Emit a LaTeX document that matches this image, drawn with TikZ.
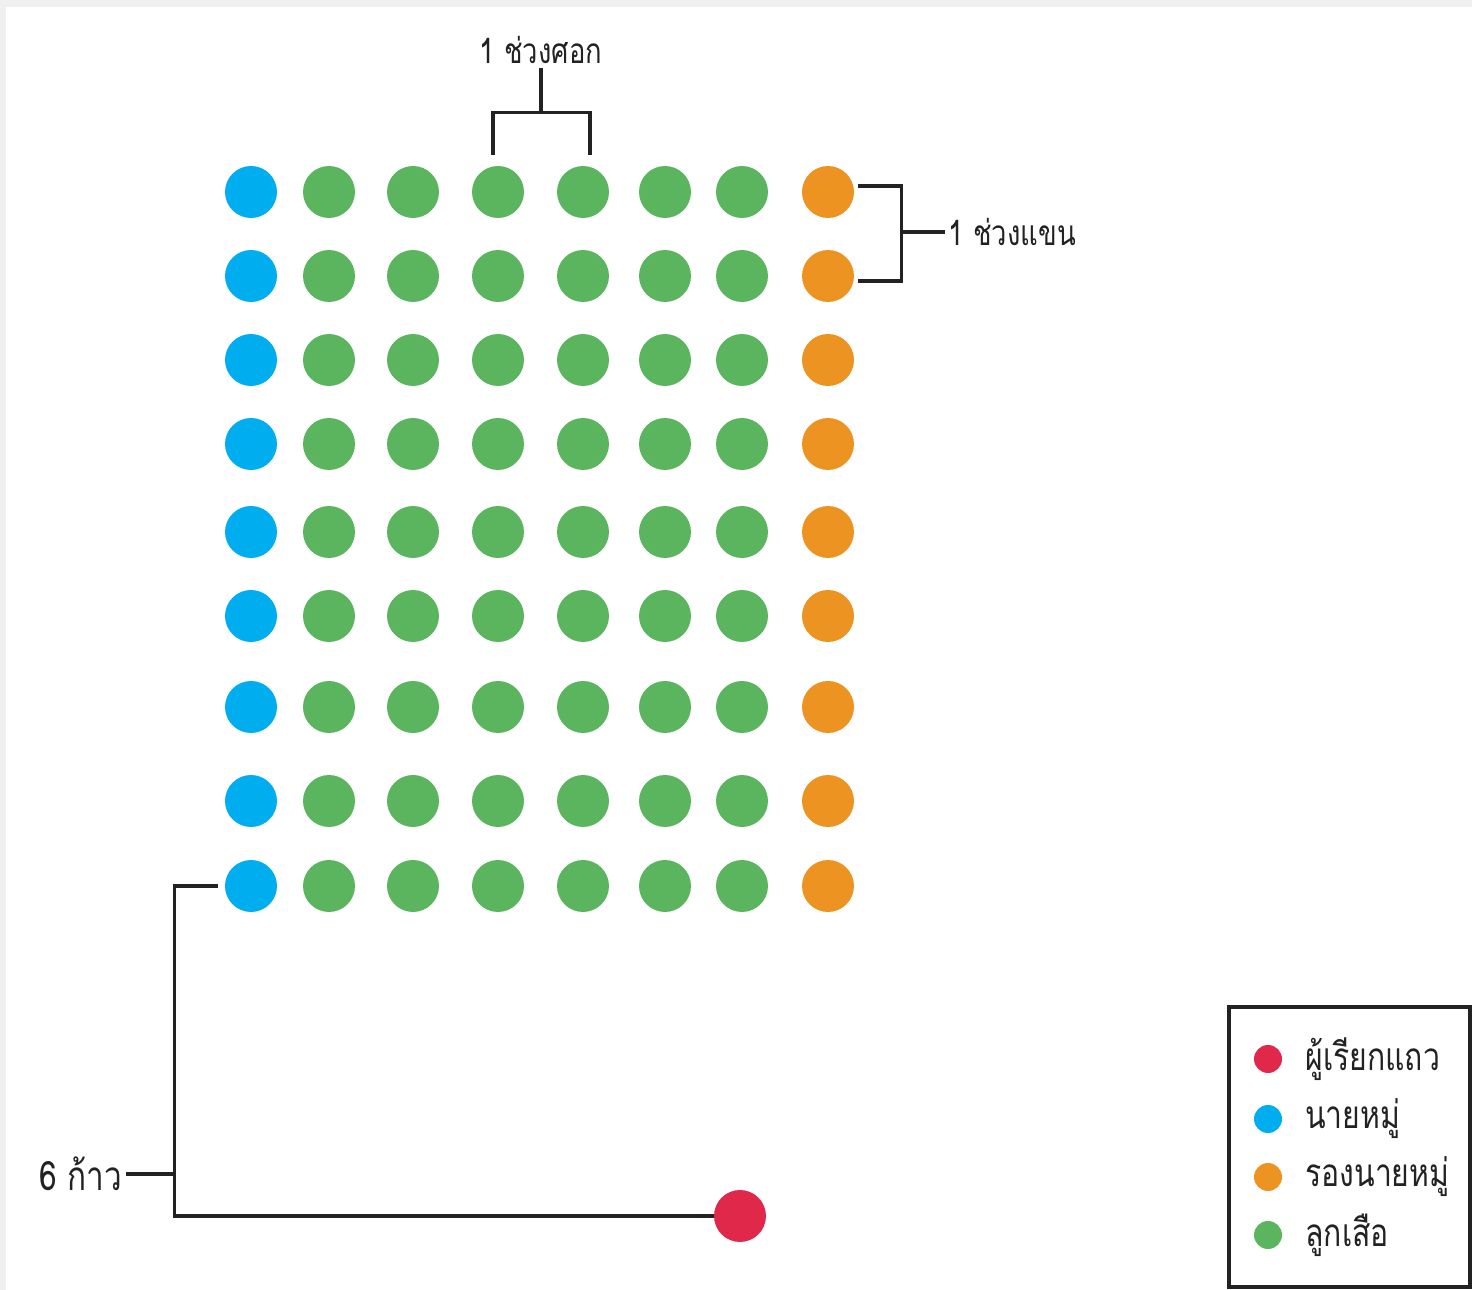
\documentclass[tikz,border=0pt]{standalone}
\usepackage{fontspec}
\usepackage{tikz}
\usetikzlibrary{calc}
\newfontfamily\thaifont[Script=Thai, FakeStretch=0.78]{Loma}
\definecolor{leaderblue}{HTML}{00AEEF}
\definecolor{scoutgreen}{HTML}{5AB55E}
\definecolor{secondorange}{HTML}{EC9322}
\definecolor{callerred}{HTML}{E0284A}
\definecolor{linegray}{HTML}{222222}

\begin{document}
\begin{tikzpicture}[x=0.02cm, y=-0.02cm,
    dot/.style={circle, fill=#1, minimum size=1.04cm, inner sep=0pt},
    keydot/.style={circle, fill=#1, minimum size=0.56cm, inner sep=0pt},
    bracket/.style={linegray, line width=2.1pt},
    label/.style={font=\thaifont\fontsize{20}{24}\selectfont, text=linegray, inner sep=2pt},
    keytext/.style={font=\thaifont\fontsize{22}{26}\selectfont, text=linegray, anchor=west, inner sep=0pt}]
            \useasboundingbox (0,0) rectangle (1472,1290);
            \fill[gray!12] (0,0) rectangle (1472,7);
            \fill[gray!12] (0,0) rectangle (6,1290);

            % rows of the patrol
            \foreach \y [count=\r] in {192,276,360,444,532,616,707,801,886}{
                \foreach \x/\kind [count=\c] in {251/leaderblue,329/scoutgreen,413/scoutgreen,498/scoutgreen,583/scoutgreen,665/scoutgreen,742/scoutgreen,828/secondorange}{
                    \node[dot=\kind] (d\r-\c) at (\x,\y) {};
                }
            }
            \node[dot=callerred] (caller) at (740,1216) {};

            % elbow spacing
            \node[label] (elbow) at (541,50) {1 ช่วงศอก};
            \draw[bracket] ([shift={(-5,-11)}]d1-4.north) -- ++(0,-42) coordinate (elbowjoin) -| ([shift={(7,-11)}]d1-5.north);
            \draw[bracket] (elbow.south) -- (elbow.south |- elbowjoin);

            % arm spacing
            \node[label, anchor=west] (arm) at (945,232) {1 ช่วงแขน};
            \draw[bracket] ([shift={(4,-6)}]d1-8.east) -- ++(43,0) coordinate (armjoin) |- ([shift={(4,5)}]d2-8.east);
            \draw[bracket] (arm.west) -- (arm.west -| armjoin);

            % six paces to the caller
            \node[label, font=\thaifont\fontsize{23}{27}\selectfont, anchor=east] (paces) at (126,1174) {6\hspace{6pt}ก้าว};
            \draw[bracket] ([xshift=-4]d9-1.west) -- ++(-43,0) coordinate (pacejoin) |- (caller.west);
            \draw[bracket] (paces.east) -- (paces.east -| pacejoin);

            % key
            \draw[linegray, line width=2.1pt] (1229,1007) rectangle (1470,1287);
            \foreach \y/\kind/\txt [count=\i] in {1059/callerred/ผู้เรียกแถว,1119/leaderblue/นายหมู่,1177/secondorange/รองนายหมู่,1235/scoutgreen/ลูกเสือ}{
                \node[keydot=\kind] (key\i) at (1268,\y) {};
                \node[keytext] (keytxt\i) at (1305,\y) {\txt};
            }
        \end{tikzpicture}
\end{document}
